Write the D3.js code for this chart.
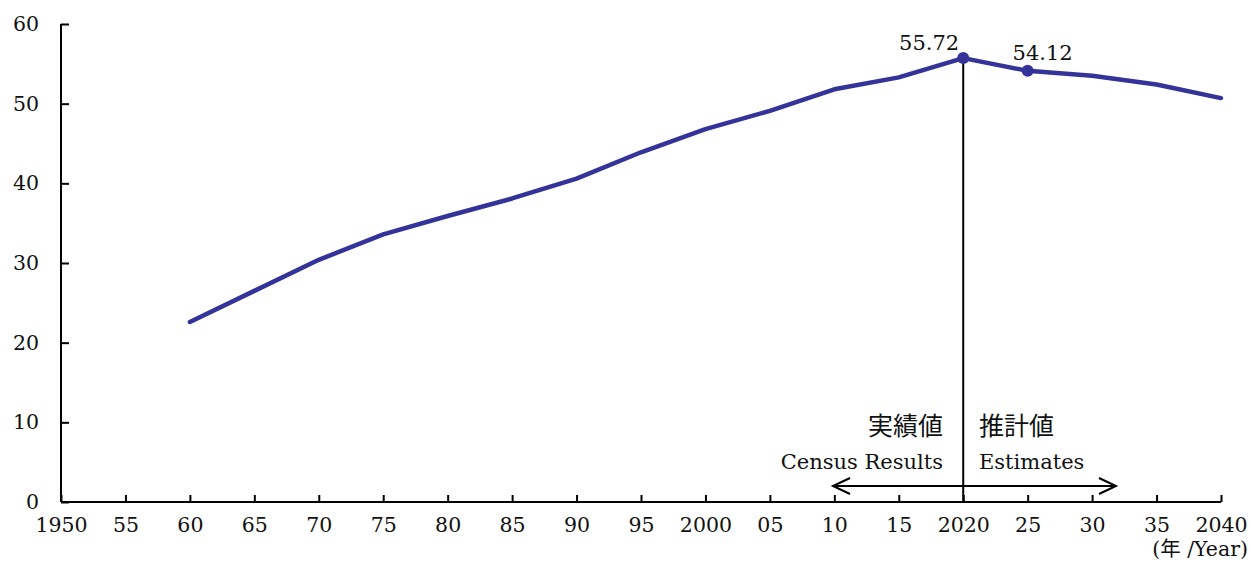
<!DOCTYPE html>
<html><head><meta charset="utf-8">
<script src="https://cdn.jsdelivr.net/npm/d3@7"></script>
<style>
body{margin:0;background:#fff;}
text{font-family:"DejaVu Serif","Liberation Serif",serif;fill:#111;}
.cjk{font-family:"Noto Sans CJK JP",sans-serif;}
</style></head><body>
<svg id="c" width="1251" height="563"></svg>
<script>
const years = [1960,1965,1970,1975,1980,1985,1990,1995,2000,2005,2010,2015,2020,2025,2030,2035,2040];
const values = [22.6,26.5,30.4,33.6,35.9,38.1,40.6,43.9,46.8,49.1,51.8,53.3,55.72,54.12,53.5,52.4,50.7];
const xTicks = [1950,1955,1960,1965,1970,1975,1980,1985,1990,1995,2000,2005,2010,2015,2020,2025,2030,2035,2040];
const xTickLabels = ["1950","55","60","65","70","75","80","85","90","95","2000","05","10","15","2020","25","30","35","2040"];
const yTicks = [0,10,20,30,40,50,60];
const markedYears = [2020,2025];
const markedLabels = ["55.72","54.12"];

const svg = d3.select("#c");
const x = d3.scaleLinear().domain([1950,2040]).range([61,1221]);
const y = d3.scaleLinear().domain([0,60]).range([502,24]);
const color = "#333399";

// y axis
const ya = svg.append("g").attr("transform","translate(61,0)")
  .call(d3.axisLeft(y).tickValues(yTicks).tickSize(-8).tickPadding(22));
ya.select(".domain").attr("stroke","#000").attr("stroke-width",2).attr("d","M0,24V502");
ya.selectAll(".tick line").attr("stroke","#000").attr("stroke-width",2);
ya.selectAll("text").attr("font-size",20.5).attr("font-family","DejaVu Serif").attr("fill","#111");

// x axis
const xa = svg.append("g").attr("transform","translate(0,502)")
  .call(d3.axisBottom(x).tickValues(xTicks).tickFormat((d,i)=>xTickLabels[i]).tickSize(-7).tickPadding(15));
xa.select(".domain").attr("stroke","#000").attr("stroke-width",2).attr("d","M61,0H1221");
xa.selectAll(".tick line").attr("stroke","#000").attr("stroke-width",2);
xa.selectAll("text").attr("font-size",20.5).attr("font-family","DejaVu Serif").attr("fill","#111");

svg.append("text").attr("x",1248).attr("y",556).attr("text-anchor","end").attr("font-size",20.5)
  .html('(<tspan class="cjk">年</tspan> /Year)');

// vertical divider
svg.append("line").attr("x1",x(2020)).attr("x2",x(2020)).attr("y1",y(55.72)).attr("y2",y(0))
  .attr("stroke","#000").attr("stroke-width",2);

// line
const line = d3.line().x((d,i)=>x(years[i])).y(d=>y(d));
svg.append("path").datum(values).attr("d",line).attr("fill","none").attr("stroke",color)
  .attr("stroke-width",4.5).attr("stroke-linejoin","round").attr("stroke-linecap","round");

markedYears.forEach((yr,k)=>{
  const v = values[years.indexOf(yr)];
  svg.append("circle").attr("cx",x(yr)).attr("cy",y(v)).attr("r",6).attr("fill",color);
});
svg.append("text").attr("x",x(2020)-4).attr("y",y(55.72)-8).attr("text-anchor","end").attr("font-size",21).text(markedLabels[0]);
svg.append("text").attr("x",x(2025)+15).attr("y",y(54.12)-11).attr("text-anchor","middle").attr("font-size",21).text(markedLabels[1]);

// annotations
svg.append("text").attr("class","cjk").attr("x",943).attr("y",435).attr("text-anchor","end").attr("font-size",25).text("実績値");
svg.append("text").attr("x",943).attr("y",469).attr("text-anchor","end").attr("font-size",21).text("Census Results");
svg.append("text").attr("class","cjk").attr("x",979).attr("y",435).attr("text-anchor","start").attr("font-size",25).text("推計値");
svg.append("text").attr("x",979).attr("y",469).attr("text-anchor","start").attr("font-size",21).text("Estimates");

const ay = 486, ax1 = 833, ax2 = 1116;
svg.append("line").attr("x1",ax1).attr("x2",ax2).attr("y1",ay).attr("y2",ay).attr("stroke","#000").attr("stroke-width",2);
svg.append("path").attr("d",`M${ax1+17},${ay-8}L${ax1},${ay}L${ax1+17},${ay+8}`).attr("fill","none").attr("stroke","#000").attr("stroke-width",2);
svg.append("path").attr("d",`M${ax2-17},${ay-8}L${ax2},${ay}L${ax2-17},${ay+8}`).attr("fill","none").attr("stroke","#000").attr("stroke-width",2);
</script></body></html>
